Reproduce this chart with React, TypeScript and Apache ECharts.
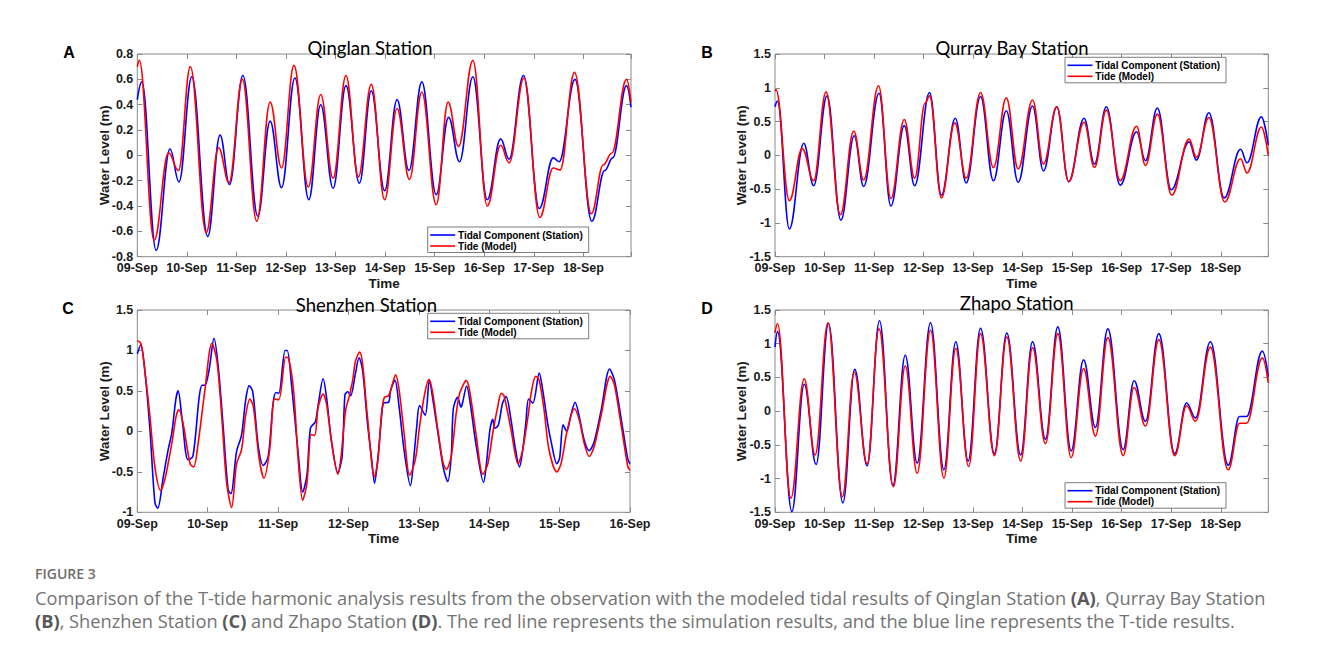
import React, { useEffect, useRef } from 'react';
import * as echarts from 'echarts';

// ---------- tick labels ----------
const dayLabels = ['09-Sep', '10-Sep', '11-Sep', '12-Sep', '13-Sep', '14-Sep', '15-Sep', '16-Sep', '17-Sep', '18-Sep'];

// ---------- data: [day offset from 09-Sep 00:00, water level (m)] ----------
const qinglanStation: [number, number][] = [
  [0, 0.44], [0.09, 0.58], [0.38, -0.75], [0.66, 0.05], [0.84, -0.21], [1.10, 0.62], [1.42, -0.64], [1.67, 0.16],
  [1.86, -0.23], [2.13, 0.63], [2.43, -0.48], [2.68, 0.27], [2.91, -0.255], [3.18, 0.61], [3.46, -0.35], [3.70, 0.40],
  [3.95, -0.26], [4.21, 0.55], [4.48, -0.22], [4.72, 0.51], [4.99, -0.28], [5.24, 0.44], [5.48, -0.12], [5.74, 0.58],
  [6.03, -0.31], [6.28, 0.30], [6.50, -0.05], [6.77, 0.62], [7.06, -0.35], [7.33, 0.13], [7.50, -0.03], [7.79, 0.63],
  [8.11, -0.42], [8.39, -0.02], [8.51, -0.05], [8.83, 0.60], [9.17, -0.52], [9.43, -0.12], [9.59, -0.02], [9.87, 0.55],
  [9.96, 0.38],
];
const qinglanModel: [number, number][] = [
  [0, 0.70], [0.04, 0.75], [0.34, -0.67], [0.63, 0.02], [0.83, -0.12], [1.07, 0.70], [1.39, -0.61], [1.64, 0.06],
  [1.85, -0.215], [2.12, 0.60], [2.41, -0.52], [2.68, 0.42], [2.91, -0.10], [3.16, 0.71], [3.45, -0.25], [3.70, 0.48],
  [3.95, -0.18], [4.21, 0.63], [4.46, -0.17], [4.72, 0.56], [4.99, -0.35], [5.24, 0.37], [5.49, -0.19], [5.74, 0.50],
  [6.03, -0.39], [6.27, 0.42], [6.48, 0.07], [6.77, 0.75], [7.06, -0.40], [7.33, 0.08], [7.50, -0.06], [7.80, 0.61],
  [8.12, -0.49], [8.39, -0.10], [8.53, -0.115], [8.82, 0.655], [9.16, -0.46], [9.40, -0.076], [9.57, 0.016], [9.87, 0.60],
  [9.96, 0.42],
];

const qurrayStation: [number, number][] = [
  [0, 0.72], [0.05, 0.80], [0.29, -1.09], [0.58, 0.18], [0.78, -0.45], [1.05, 0.88], [1.33, -0.96], [1.60, 0.29],
  [1.79, -0.46], [2.10, 0.92], [2.34, -0.75], [2.61, 0.44], [2.82, -0.45], [3.12, 0.93], [3.36, -0.59], [3.64, 0.55],
  [3.86, -0.41], [4.15, 0.87], [4.41, -0.375], [4.67, 0.66], [4.91, -0.40], [5.20, 0.73], [5.42, -0.23], [5.69, 0.72],
  [5.93, -0.39], [6.24, 0.55], [6.45, -0.13], [6.69, 0.72], [6.97, -0.44], [7.30, 0.35], [7.48, -0.08], [7.72, 0.70],
  [8.00, -0.51], [8.36, 0.20], [8.51, -0.07], [8.76, 0.63], [9.07, -0.63], [9.40, 0.09], [9.53, -0.11], [9.82, 0.57],
  [9.96, 0.15],
];
const qurrayModel: [number, number][] = [
  [0, 0.95], [0.02, 0.97], [0.29, -0.67], [0.55, 0.10], [0.78, -0.375], [1.03, 0.94], [1.32, -0.88], [1.59, 0.36],
  [1.79, -0.365], [2.09, 1.03], [2.34, -0.64], [2.61, 0.53], [2.82, -0.34], [3.03, 0.77], [3.12, 0.88], [3.36, -0.63],
  [3.63, 0.48], [3.86, -0.34], [4.15, 0.93], [4.41, -0.18], [4.67, 0.85], [4.91, -0.20], [5.20, 0.82], [5.42, -0.13],
  [5.69, 0.72], [5.93, -0.39], [6.24, 0.49], [6.45, -0.18], [6.69, 0.67], [6.97, -0.375], [7.30, 0.43], [7.48, -0.15],
  [7.72, 0.61], [8.01, -0.59], [8.36, 0.24], [8.51, -0.03], [8.76, 0.56], [9.08, -0.69], [9.40, -0.05], [9.53, -0.26],
  [9.82, 0.42], [9.96, 0.0],
];

const shenzhenStation: [number, number][] = [
  [0, 0.96], [0.05, 1.07], [0.11, 0.72], [0.18, 0.02], [0.25, -0.88], [0.29, -0.95], [0.37, -0.56], [0.44, -0.22],
  [0.49, -0.02], [0.55, 0.41], [0.58, 0.50], [0.64, 0.12], [0.72, -0.35], [0.79, -0.31], [0.88, 0.43], [0.92, 0.57],
  [0.96, 0.57], [1.02, 0.76], [1.09, 1.15], [1.15, 0.80], [1.22, 0.06], [1.29, -0.72], [1.33, -0.77], [1.41, -0.25],
  [1.48, -0.05], [1.54, 0.39], [1.59, 0.565], [1.64, 0.49], [1.72, -0.19], [1.79, -0.42], [1.86, -0.31], [1.93, 0.35],
  [1.97, 0.48], [2.01, 0.47], [2.10, 1.00], [2.13, 1.00], [2.19, 0.59], [2.29, -0.31], [2.35, -0.75], [2.41, -0.54],
  [2.46, 0.04], [2.53, 0.12], [2.57, 0.33], [2.64, 0.65], [2.69, 0.41], [2.76, -0.13], [2.85, -0.51], [2.91, -0.31],
  [2.95, 0.45], [2.99, 0.49], [3.03, 0.44], [3.10, 0.72], [3.15, 0.91], [3.20, 0.76], [3.27, 0.10], [3.33, -0.35],
  [3.37, -0.64], [3.42, -0.31], [3.47, 0.18], [3.50, 0.35], [3.57, 0.36], [3.60, 0.51], [3.66, 0.63], [3.72, 0.30],
  [3.79, -0.23], [3.88, -0.67], [3.93, -0.31], [3.97, 0.06], [4.01, 0.32], [4.09, 0.20], [4.15, 0.64], [4.20, 0.39],
  [4.28, -0.07], [4.35, -0.46], [4.41, -0.62], [4.46, -0.31], [4.49, 0.28], [4.55, 0.42], [4.60, 0.30], [4.62, 0.35],
  [4.68, 0.56], [4.73, 0.35], [4.81, -0.15], [4.92, -0.63], [4.96, -0.40], [5.01, 0.02], [5.05, 0.15], [5.08, 0.04],
  [5.13, 0.08], [5.19, 0.35], [5.24, 0.43], [5.31, 0.14], [5.36, -0.15], [5.43, -0.44], [5.47, -0.27], [5.52, 0.10],
  [5.56, 0.40], [5.62, 0.35], [5.71, 0.72], [5.76, 0.51], [5.83, 0.10], [5.88, -0.13], [5.96, -0.40], [6.00, -0.33],
  [6.05, 0.08], [6.10, 0.00], [6.16, 0.20], [6.22, 0.36], [6.28, 0.18], [6.35, -0.11], [6.42, -0.24], [6.49, -0.13],
  [6.59, 0.26], [6.71, 0.77], [6.78, 0.63], [6.87, 0.18], [6.97, -0.35], [7.00, -0.40],
];
const shenzhenModel: [number, number][] = [
  [0, 1.12], [0.05, 1.09], [0.09, 0.88], [0.18, 0.18], [0.25, -0.44], [0.33, -0.73], [0.39, -0.60], [0.49, -0.15],
  [0.55, 0.18], [0.59, 0.27], [0.65, 0.10], [0.75, -0.40], [0.80, -0.44], [0.87, -0.11], [0.96, 0.51], [1.06, 1.09],
  [1.13, 0.88], [1.20, 0.18], [1.27, -0.64], [1.34, -0.94], [1.41, -0.40], [1.48, -0.23], [1.54, 0.20], [1.60, 0.40],
  [1.65, 0.30], [1.73, -0.33], [1.80, -0.58], [1.88, -0.23], [1.95, 0.40], [2.01, 0.39], [2.11, 0.92], [2.15, 0.90],
  [2.22, 0.51], [2.29, -0.40], [2.35, -0.85], [2.41, -0.64], [2.47, -0.04], [2.52, -0.05], [2.57, 0.30], [2.64, 0.46],
  [2.69, 0.33], [2.76, -0.13], [2.85, -0.53], [2.89, -0.35], [2.96, 0.26], [3.01, 0.43], [3.06, 0.63], [3.10, 0.87],
  [3.16, 0.98], [3.20, 0.84], [3.27, 0.18], [3.37, -0.56], [3.42, -0.35], [3.47, 0.22], [3.51, 0.42], [3.57, 0.44],
  [3.62, 0.57], [3.67, 0.70], [3.72, 0.51], [3.79, -0.02], [3.87, -0.54], [3.95, -0.35], [4.01, 0.06], [4.08, 0.45],
  [4.14, 0.64], [4.19, 0.51], [4.27, 0.02], [4.34, -0.37], [4.39, -0.47], [4.46, -0.31], [4.53, 0.22], [4.58, 0.47],
  [4.64, 0.59], [4.67, 0.63], [4.72, 0.51], [4.81, -0.02], [4.91, -0.53], [4.98, -0.40], [5.05, -0.02], [5.12, 0.30],
  [5.17, 0.47], [5.21, 0.44], [5.31, 0.02], [5.41, -0.40], [5.47, -0.25], [5.55, 0.18], [5.60, 0.49], [5.66, 0.68],
  [5.71, 0.63], [5.78, 0.26], [5.85, -0.23], [5.96, -0.50], [6.02, -0.40], [6.11, 0.02], [6.21, 0.28], [6.28, 0.14],
  [6.35, -0.15], [6.42, -0.31], [6.49, -0.19], [6.59, 0.20], [6.72, 0.68], [6.78, 0.57], [6.87, 0.10], [6.97, -0.44],
  [7.00, -0.48],
];

const zhapoStation: [number, number][] = [
  [0, 0.95], [0.05, 1.18], [0.34, -1.49], [0.59, 0.40], [0.83, -0.79], [1.08, 1.30], [1.37, -1.36], [1.61, 0.62],
  [1.86, -0.81], [2.11, 1.34], [2.38, -1.10], [2.63, 0.83], [2.87, -0.77], [3.14, 1.31], [3.41, -0.87], [3.65, 1.03],
  [3.90, -0.74], [4.15, 1.23], [4.43, -0.63], [4.68, 1.16], [4.96, -0.65], [5.20, 1.03], [5.46, -0.415], [5.71, 1.25],
  [5.98, -0.59], [6.23, 0.76], [6.47, -0.24], [6.72, 1.22], [7.03, -0.57], [7.25, 0.45], [7.48, -0.15], [7.75, 1.15],
  [8.07, -0.63], [8.31, 0.12], [8.49, -0.10], [8.79, 1.03], [9.15, -0.80], [9.38, -0.08], [9.52, -0.08], [9.84, 0.89],
  [9.96, 0.51],
];
const zhapoModel: [number, number][] = [
  [0, 1.16], [0.05, 1.30], [0.32, -1.29], [0.59, 0.48], [0.81, -0.65], [1.07, 1.31], [1.36, -1.27], [1.60, 0.58],
  [1.86, -0.78], [2.10, 1.22], [2.39, -1.12], [2.63, 0.67], [2.87, -0.92], [3.14, 1.20], [3.41, -0.99], [3.65, 0.93],
  [3.91, -0.82], [4.15, 1.15], [4.43, -0.66], [4.68, 1.10], [4.96, -0.74], [5.20, 0.94], [5.46, -0.48], [5.71, 1.15],
  [5.98, -0.69], [6.23, 0.63], [6.47, -0.37], [6.72, 1.09], [7.03, -0.66], [7.25, 0.35], [7.48, -0.22], [7.75, 1.06],
  [8.07, -0.66], [8.31, 0.08], [8.49, -0.15], [8.79, 0.95], [9.15, -0.87], [9.38, -0.18], [9.52, -0.18], [9.84, 0.79],
  [9.96, 0.42],
];

const seriesNames = ['Tidal Component (Station)', 'Tide (Model)'];
const titles = ['Qinglan Station', 'Qurray Bay Station', 'Shenzhen Station', 'Zhapo Station'];
const letters = ['A', 'B', 'C', 'D'];

// ---------- styles / layout ----------
const BOX = '#8a8a8a';
const TXT = '#1a1a1a';
const ARIAL = '"Liberation Sans", Arial, sans-serif';
const BLUE = '#0000ff';
const RED = '#ff0000';

const panels = [
  { station: qinglanStation, model: qinglanModel, yMin: -0.8, yMax: 0.8, yInt: 0.2, xMax: 9.96, nDays: 10,
    left: 137.3, top: 54, width: 493.7, height: 202.7, legend: [427.7, 227], titleXY: [370, 47.5], letterXY: [69, 52], smooth: 0.4, mono: 'x' },
  { station: qurrayStation, model: qurrayModel, yMin: -1.5, yMax: 1.5, yInt: 0.5, xMax: 9.96, nDays: 10,
    left: 775, top: 54, width: 493.3, height: 202.7, legend: [1065, 57.3], titleXY: [1012, 47.5], letterXY: [707, 52], smooth: 0.4, mono: 'x' },
  { station: shenzhenStation, model: shenzhenModel, yMin: -1, yMax: 1.5, yInt: 0.5, xMax: 7, nDays: 8,
    left: 137.3, top: 310, width: 492.7, height: 202.3, legend: [427.7, 313.3], titleXY: [366.5, 305], letterXY: [68, 308.5], smooth: 0.3, mono: undefined },
  { station: zhapoStation, model: zhapoModel, yMin: -1.5, yMax: 1.5, yInt: 0.5, xMax: 9.96, nDays: 10,
    left: 775, top: 310, width: 493.3, height: 202.3, legend: [1065, 482.7], titleXY: [1016.7, 302.7], letterXY: [707, 308.5], smooth: 0.4, mono: 'x' },
];

function buildOption() {
  const grid: any[] = [];
  const xAxis: any[] = [];
  const yAxis: any[] = [];
  const series: any[] = [];
  const graphic: any[] = [];

  const tickStyle = { show: true, inside: true, length: 5, lineStyle: { color: BOX, width: 1 } };
  const labelStyle = { fontFamily: ARIAL, fontWeight: 'bold', fontSize: 12.5, color: TXT };
  const noLine = { show: false, onZero: false };

  panels.forEach((p, i) => {
    grid.push({ left: p.left, top: p.top, width: p.width, height: p.height, show: true,
      borderColor: BOX, borderWidth: 1, backgroundColor: '#ffffff', containLabel: false });

    const xLabels = dayLabels.slice(0, p.nDays);
    const xBase = { type: 'value', gridIndex: i, min: 0, max: p.xMax, interval: 1,
      axisLine: noLine, splitLine: { show: false }, axisTick: tickStyle };
    xAxis.push({ ...xBase, position: 'bottom',
      axisLabel: { ...labelStyle, margin: 5, formatter: (v: number) => {
        const r = Math.round(v);
        return Math.abs(v - r) < 1e-6 && xLabels[r] ? xLabels[r] : '';
      } } });
    xAxis.push({ ...xBase, position: 'top', axisLabel: { show: false } });

    const yBase = { type: 'value', gridIndex: i, min: p.yMin, max: p.yMax, interval: p.yInt,
      axisLine: noLine, splitLine: { show: false }, axisTick: tickStyle };
    yAxis.push({ ...yBase, position: 'left',
      axisLabel: { ...labelStyle, margin: 4, formatter: (v: number) => String(Math.round(v * 10) / 10) } });
    yAxis.push({ ...yBase, position: 'right', axisLabel: { show: false } });

    [p.station, p.model].forEach((d, k) => {
      series.push({
        type: 'line', name: seriesNames[k], xAxisIndex: 2 * i, yAxisIndex: 2 * i, data: d,
        symbol: 'none', showSymbol: false, smooth: p.smooth, smoothMonotone: p.mono,
        lineStyle: { color: k === 0 ? BLUE : RED, width: 1.6 }, itemStyle: { color: k === 0 ? BLUE : RED },
        z: 2 + k, silent: true,
      });
    });

    // panel letter
    graphic.push({ type: 'text', x: p.letterXY[0], y: p.letterXY[1], z: 50,
      style: { text: letters[i], fontFamily: ARIAL, fontWeight: 'bold', fontSize: 16, fill: '#000', align: 'center', verticalAlign: 'middle' } });
    // title
    graphic.push({ type: 'text', x: p.titleXY[0], y: p.titleXY[1], z: 50,
      style: { text: titles[i], fontFamily: 'Lato, "Open Sans", sans-serif', fontSize: 18.5, fill: '#000', align: 'center', verticalAlign: 'middle' } });
    // y axis name
    graphic.push({ type: 'text', x: p.left - 33.3, y: p.top + p.height / 2, rotation: Math.PI / 2, z: 50,
      style: { text: 'Water Level (m)', fontFamily: ARIAL, fontWeight: 'bold', fontSize: 13.5, fill: TXT, align: 'center', verticalAlign: 'middle' } });
    // x axis name
    graphic.push({ type: 'text', x: p.left + p.width / 2, y: p.top + p.height + 26.3, z: 50,
      style: { text: 'Time', fontFamily: ARIAL, fontWeight: 'bold', fontSize: 13.5, fill: TXT, align: 'center', verticalAlign: 'middle' } });
    // legend
    const [lx, ly] = p.legend;
    graphic.push({ type: 'rect', z: 100, shape: { x: lx, y: ly, width: 161, height: 25.5 },
      style: { fill: '#ffffff', stroke: '#5a5a5a', lineWidth: 0.8 } });
    [BLUE, RED].forEach((c, k) => {
      const yy = ly + 8 + k * 11;
      graphic.push({ type: 'line', z: 101, shape: { x1: lx + 2.5, y1: yy, x2: lx + 27.5, y2: yy }, style: { stroke: c, lineWidth: 1.6 } });
      graphic.push({ type: 'text', z: 101, x: lx + 30.3, y: yy,
        style: { text: seriesNames[k], fontFamily: ARIAL, fontWeight: 'bold', fontSize: 10, fill: '#000', align: 'left', verticalAlign: 'middle' } });
    });
  });

  // caption
  const capFont = '"Open Sans", "Noto Sans", sans-serif';
  const rich = { b: { fontFamily: capFont, fontSize: 18.25, fontWeight: 'bold', fill: '#585858' } };
  graphic.push({ type: 'text', x: 35, y: 573.3, z: 50,
    style: { text: 'FIGURE 3', fontFamily: capFont, fontSize: 14, fontWeight: 600, fill: '#6e6e6e', verticalAlign: 'middle', align: 'left' } });
  graphic.push({ type: 'text', x: 35, y: 597.5, z: 50,
    style: { text: 'Comparison of the T-tide harmonic analysis results from the observation with the modeled tidal results of Qinglan Station {b|(A)}, Qurray Bay Station',
      rich, fontFamily: capFont, fontSize: 18.25, fill: '#737373', verticalAlign: 'middle', align: 'left' } });
  graphic.push({ type: 'text', x: 35, y: 620.5, z: 50,
    style: { text: '{b|(B)}, Shenzhen Station {b|(C)} and Zhapo Station {b|(D)}. The red line represents the simulation results, and the blue line represents the T-tide results.',
      rich, fontFamily: capFont, fontSize: 18.25, fill: '#737373', verticalAlign: 'middle', align: 'left' } });

  return {
    animation: false,
    backgroundColor: '#ffffff',
    grid, xAxis, yAxis, series, graphic,
  };
}

export default function App() {
  const ref = useRef<HTMLDivElement>(null);
  useEffect(() => {
    if (!ref.current) return;
    const chart = echarts.init(ref.current, undefined, { renderer: 'svg' });
    chart.setOption(buildOption() as any);
    return () => chart.dispose();
  }, []);
  return <div ref={ref} style={{ position: 'absolute', left: 0, top: 0, width: 1328, height: 656, background: '#fff' }} />;
}
